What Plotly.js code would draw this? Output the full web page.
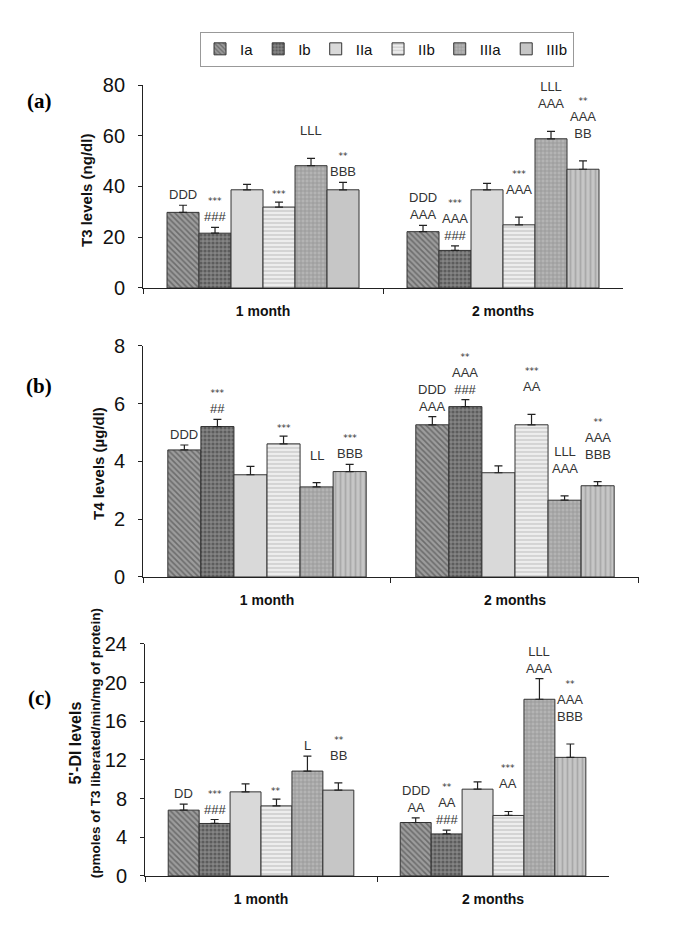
<!DOCTYPE html>
<html>
<head>
<meta charset="utf-8">
<script src="https://cdn.plot.ly/plotly-3.0.1.min.js"></script>
<style>
  html, body { margin: 0; padding: 0; background: #fff; }
  #chart { width: 685px; height: 929px; }
</style>
</head>
<body>
<div id="chart"></div>
<script>
// groups and time points
var groups = ['Ia', 'Ib', 'IIa', 'IIb', 'IIIa', 'IIIb'];
var months = ['1 month', '2 months'];

// (a) T3 levels (ng/dl), per group: [1 month, 2 months]
var t3Mean = [[29.8, 22.2], [21.6, 14.8], [38.7, 38.7], [31.9, 24.9], [48.2, 58.8], [38.7, 46.8]];
var t3Err  = [[2.8, 2.5], [2.3, 1.8], [2.1, 2.5], [1.9, 3.0], [2.9, 2.9], [2.9, 3.3]];
var t3Marks = [
  [['DDD'], ['DDD', 'AAA']],
  [['***', '###'], ['***', 'AAA', '###']],
  [[], []],
  [['***'], ['***', 'AAA', '']],
  [['LLL', ''], ['LLL', 'AAA', '']],
  [['**', 'BBB'], ['**', 'AAA', 'BB', '']]
];

// (b) T4 levels (ug/dl)
var t4Mean = [[4.40, 5.27], [5.21, 5.90], [3.54, 3.61], [4.61, 5.27], [3.12, 2.66], [3.65, 3.16]];
var t4Err  = [[0.17, 0.28], [0.25, 0.24], [0.29, 0.24], [0.27, 0.36], [0.15, 0.15], [0.25, 0.14]];
var t4Marks = [
  [['DDD'], ['DDD', 'AAA']],
  [['***', '##'], ['**', 'AAA', '###']],
  [[], []],
  [['***'], ['***', 'AA', '']],
  [['LL', ''], ['LLL', 'AAA', '']],
  [['***', 'BBB'], ['**', 'AAA', 'BBB', '']]
];

// (c) 5'-DI levels
var diMean = [[6.81, 5.53], [5.43, 4.35], [8.70, 8.98], [7.25, 6.26], [10.85, 18.28], [8.88, 12.27]];
var diErr  = [[0.62, 0.48], [0.41, 0.39], [0.83, 0.76], [0.70, 0.41], [1.55, 2.13], [0.76, 1.38]];
var diMarks = [
  [['DD'], ['DDD', 'AA']],
  [['***', '###'], ['**', 'AA', '###']],
  [[], []],
  [['**'], ['***', 'AA', '']],
  [['L'], ['LLL', 'AAA']],
  [['**', 'BB', ''], ['**', 'AAA', 'BBB', '']]
];

// y axis titles
var yTitles = [
  '<b>T3 levels (ng/dl)</b>',
  '<b>T4 levels (\u00b5g/dl)</b>',
  "<b><span style=\"font-size:16px\">5'-DI levels</span></b><br><b><span style=\"font-size:13.5px\">(pmoles of T3 liberated/min/mg of protein)</span></b>"
];

// bar fills (grey textures)
var fills = [
  {color: '#9c9c9c', shape: '\\', fg: '#3c3c3c', size: 4, solidity: 0.4},
  {color: '#858585', shape: '.',  fg: '#333333', size: 4, solidity: 0.5},
  {color: '#d9d9d9', shape: '',   fg: '#c0c0c0', size: 4, solidity: 0.2},
  {color: '#ededed', shape: '-',  fg: '#b0b0b0', size: 4, solidity: 0.4},
  {color: '#b4b4b4', shape: '+',  fg: '#6a6a6a', size: 4, solidity: 0.3},
  {color: '#c6c6c6', shape: '|',  fg: '#8a8a8a', size: 5, solidity: 0.35}
];
// IIIb is plain grey at 1 month in panels (a) and (c)
var iiibShapes = [['', '|'], ['|', '|'], ['', '|']];

var panels = [
  {mean: t3Mean, err: t3Err, marks: t3Marks, xa: 'x',  ya: 'y'},
  {mean: t4Mean, err: t4Err, marks: t4Marks, xa: 'x2', ya: 'y2'},
  {mean: diMean, err: diErr, marks: diMarks, xa: 'x3', ya: 'y3'}
];

var barGap = 0.2;
var barW = (1 - barGap) / groups.length;

function marksText(lines) {
  return lines.map(function (s) {
    if (s === '') return '\u00a0';
    if (s.indexOf('*') >= 0) return '<span style="font-family:DejaVu Sans;font-size:9px">' + s + '</span>';
    return s;
  }).join('<br>');
}

var traces = [];
var annotations = [];

panels.forEach(function (p, pi) {
  groups.forEach(function (g, j) {
    var f = fills[j];
    var shape = (j === 5) ? iiibShapes[pi] : f.shape;
    var vals = p.mean[j];
    var errs = p.err[j];
    traces.push({
      type: 'bar',
      name: g,
      x: months,
      y: vals,
      xaxis: p.xa,
      yaxis: p.ya,
      legendgroup: g,
      showlegend: pi === 0,
      marker: {
        color: f.color,
        line: {color: '#333', width: 1},
        pattern: {shape: shape, fgcolor: f.fg, size: f.size, solidity: f.solidity, fillmode: 'overlay'}
      },
      error_y: {
        type: 'data', symmetric: false, array: errs, arrayminus: errs.map(function () { return 0; }),
        color: '#222', thickness: 1.2, width: 4
      },
      hoverinfo: 'skip'
    });

    for (var m = 0; m < months.length; m++) {
      var lines = p.marks[j][m];
      if (!lines.length) continue;
      annotations.push({
        xref: p.xa, yref: p.ya,
        x: m - (1 - barGap) / 2 + (j + 0.5) * barW,
        y: vals[m] + errs[m],
        yanchor: 'bottom', xanchor: 'center', yshift: 1,
        showarrow: false,
        text: marksText(lines),
        font: {family: 'Liberation Sans, Arial, sans-serif', size: 13, color: '#333'}
      });
    }
  });
});

// panel letters and rotated y titles
var panelLabels = ['(a)', '(b)', '(c)'];
var labelY = [0.891, 0.585, 0.249];
var titleX = [0.127, 0.143, 0.124];
var titleY = [0.7955, 0.5016, 0.2000];
panelLabels.forEach(function (t, i) {
  annotations.push({
    xref: 'paper', yref: 'paper', x: 0.057, y: labelY[i],
    xanchor: 'center', yanchor: 'middle', showarrow: false,
    text: '<b>' + t + '</b>',
    font: {family: 'Liberation Serif, Times New Roman, serif', size: 21, color: '#000'}
  });
  annotations.push({
    xref: 'paper', yref: 'paper', x: titleX[i], y: titleY[i],
    xanchor: 'center', yanchor: 'middle', showarrow: false, textangle: -90,
    text: yTitles[i],
    font: {family: 'Liberation Sans, Arial, sans-serif', size: 15, color: '#111'}
  });
});

var tickFont = {family: 'Liberation Sans, Arial, sans-serif', size: 20, color: '#111'};
var catFont = {family: 'Liberation Sans, Arial, sans-serif', size: 14, color: '#111', weight: 'bold'};

function xAxis(domain, anchor) {
  return {
    domain: domain, anchor: anchor, type: 'category',
    showline: true, linecolor: '#222', linewidth: 1,
    ticks: 'outside', tickson: 'boundaries', ticklen: 5, tickcolor: '#222',
    tickfont: catFont, ticklabelstandoff: 10,
    showgrid: false, zeroline: false, fixedrange: true
  };
}
function yAxis(domain, anchor, range, dtick) {
  return {
    domain: domain, anchor: anchor, range: range, dtick: dtick,
    showline: true, linecolor: '#222', linewidth: 1,
    ticks: 'outside', ticklen: 4, tickcolor: '#222',
    tickfont: tickFont, ticklabelstandoff: 9,
    showgrid: false, zeroline: false, fixedrange: true
  };
}

var layout = {
  width: 685,
  height: 929,
  margin: {l: 0, r: 0, t: 0, b: 0},
  paper_bgcolor: '#fff',
  plot_bgcolor: '#fff',
  barmode: 'group',
  bargap: barGap,
  bargroupgap: 0,
  showlegend: true,
  legend: {
    orientation: 'h', x: 0.565, xanchor: 'center', y: 0.966, yanchor: 'top',
    bordercolor: '#999', borderwidth: 1,
    font: {family: 'Liberation Sans, Arial, sans-serif', size: 15, color: '#111'},
    itemwidth: 30, tracegroupgap: 0
  },
  xaxis:  xAxis([0.2088, 0.9095], 'y'),
  yaxis:  yAxis([0.6900, 0.9085], 'x', [0, 80], 20),
  xaxis2: xAxis([0.2088, 0.9328], 'y2'),
  yaxis2: yAxis([0.3789, 0.6276], 'x2', [0, 8], 2),
  xaxis3: xAxis([0.2117, 0.8891], 'y3'),
  yaxis3: yAxis([0.0571, 0.3068], 'x3', [0, 24], 4),
  annotations: annotations
};

Plotly.newPlot('chart', traces, layout, {displayModeBar: false, staticPlot: true});
</script>
</body>
</html>
